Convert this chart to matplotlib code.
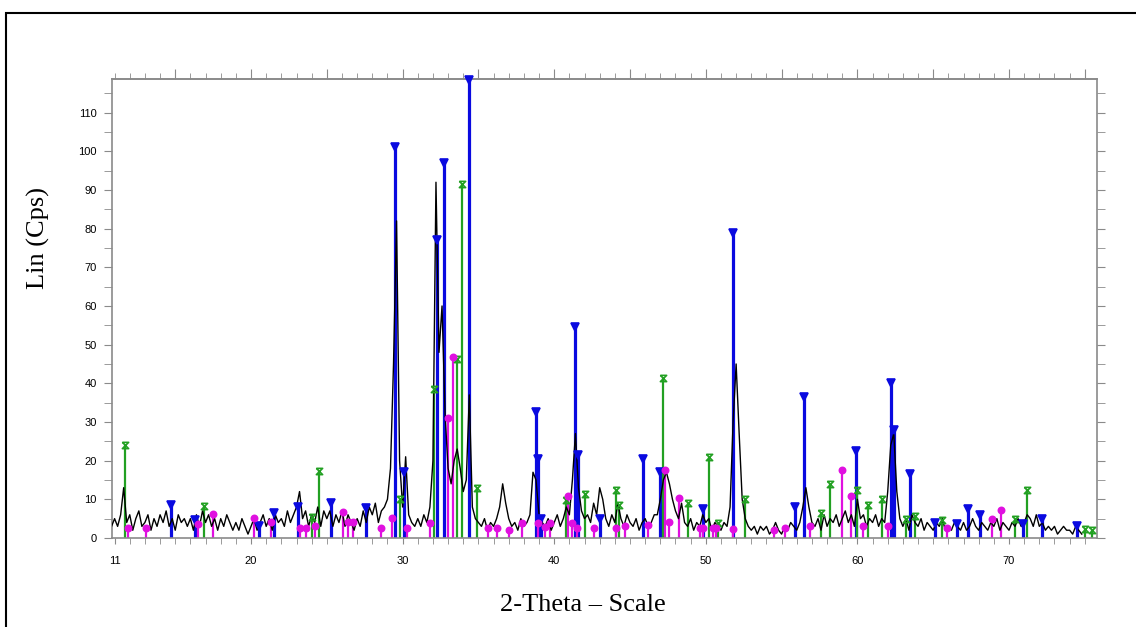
import numpy as np
import matplotlib
matplotlib.use("Agg")
import matplotlib.pyplot as plt
from matplotlib.path import Path
from matplotlib.patches import Rectangle
from matplotlib.ticker import FixedLocator, MultipleLocator

# measured pattern, 0.2 deg step from 10.8 to 74.8 (one row per degree)
counts = [
    3,
    5, 3, 6, 13, 4,
    6, 2, 5, 7, 3,
    4, 6, 2, 5, 3,
    6, 4, 7, 3, 5,
    2, 6, 4, 5, 3,
    5, 2, 6, 3, 7,
    4, 6, 3, 5, 2,
    5, 3, 6, 4, 2,
    4, 2, 5, 3, 1,
    3, 5, 2, 4, 6,
    3, 5, 2, 6, 4,
    5, 3, 7, 4, 6,
    8, 12, 5, 7, 3,
    6, 4, 8, 3, 7,
    5, 7, 3, 6, 4,
    7, 3, 6, 4, 2,
    5, 3, 7, 4, 8,
    6, 9, 4, 7, 8,
    10, 18, 45, 82, 20,
    8, 21, 6, 4, 3,
    5, 3, 6, 4, 8,
    20, 92, 48, 60, 32,
    18, 14, 20, 23, 18,
    12, 15, 37, 8, 5,
    4, 3, 5, 2, 4,
    3, 5, 8, 14, 9,
    5, 3, 4, 2, 5,
    3, 4, 6, 17, 15,
    6, 4, 3, 5, 2,
    4, 6, 3, 5, 8,
    6, 15, 27, 13, 7,
    5, 6, 4, 9, 6,
    13, 10, 5, 3, 6,
    4, 9, 5, 3, 6,
    4, 3, 5, 2, 4,
    5, 3, 4, 6, 6,
    10, 15, 17, 14, 10,
    7, 5, 9, 4, 3,
    5, 2, 4, 3, 6,
    4, 5, 2, 4, 3,
    2, 4, 3, 8, 30,
    45, 27, 10, 5, 3,
    2, 3, 1, 3, 2,
    3, 1, 2, 4, 2,
    1, 3, 2, 4, 3,
    2, 4, 8, 13, 8,
    4, 3, 5, 2, 6,
    3, 5, 4, 6, 3,
    5, 7, 4, 6, 3,
    10, 5, 6, 3, 5,
    4, 6, 3, 5, 4,
    12, 24, 27, 12, 5,
    3, 5, 2, 6, 4,
    3, 5, 2, 4, 3,
    2, 4, 3, 5, 2,
    3, 2, 4, 3, 2,
    4, 2, 3, 5, 3,
    2, 4, 3, 2, 4,
    3, 5, 2, 4, 3,
    2, 4, 3, 5, 3,
    4, 6, 5, 3, 6,
    3, 4, 2, 3, 2,
    3, 1, 2, 3, 2,
    2, 1, 3, 2, 1,
]
two_theta = np.linspace(10.8, 74.8, len(counts))

# reference phases (stick patterns)
blue_pos = [14.7, 16.3, 20.5, 21.5, 23.1, 25.3, 27.6, 29.5, 30.1, 32.3, 32.7,
            34.4, 38.8, 38.95, 39.1, 41.35, 41.6, 43.0, 45.85, 47.0, 49.8,
            51.8, 55.9, 56.5, 59.9, 62.2, 62.4, 63.5, 65.1, 66.6, 67.3, 68.1,
            70.9, 72.2, 74.5]
blue_int = [8.5, 4.6, 3, 6.5, 8, 9, 7.7, 101, 17, 77, 97,
            118.5, 32.5, 20.5, 5, 54.5, 21.5, 5, 20.5, 17, 7.5,
            79, 8, 36.5, 22.5, 40, 28, 16.5, 3.9, 3.5, 7.5, 6,
            3.5, 4.9, 3]

green_pos = [11.7, 16.9, 24.0, 24.5, 29.8, 32.1, 33.6, 33.9, 34.9, 40.8, 42.0,
             44.1, 44.3, 47.2, 48.8, 50.2, 50.8, 52.6, 57.6, 58.2, 60.0, 60.7,
             61.6, 63.2, 63.8, 65.6, 70.4, 71.2, 75.0, 75.5]
green_int = [24, 8.3, 5.5, 17.4, 10, 38.5, 46.3, 91.5, 13, 9.8, 11.4,
             12.4, 8.5, 41.5, 9, 21, 3.8, 10, 6.5, 14, 12.4, 8.5,
             10, 5, 5.7, 4.7, 5, 12.4, 2.3, 2]

mag_pos = [11.9, 13.1, 16.5, 17.5, 20.2, 21.3, 23.2, 23.6, 24.2, 26.1, 26.4,
           26.7, 28.6, 29.3, 30.3, 31.8, 33.0, 33.3, 35.6, 36.2, 37.0, 37.9,
           38.9, 39.4, 39.7, 40.9, 41.2, 41.5, 42.6, 44.1, 44.7, 46.2, 47.3,
           47.6, 48.2, 49.6, 49.8, 50.5, 50.7, 51.8, 54.5, 55.2, 56.9, 59.0,
           59.6, 60.4, 62.0, 65.9, 68.9, 69.5]
mag_int = [2.6, 2.6, 3.6, 6.2, 5.2, 4.2, 2.5, 2.5, 3, 6.7, 4,
           4, 2.6, 5.2, 2.6, 3.9, 31, 46.8, 2.5, 2.6, 2, 3.8,
           3.8, 2.8, 3.9, 10.8, 3.9, 2.5, 2.6, 2.6, 3, 3.4, 17.6,
           4, 10.3, 2.6, 2.6, 2.6, 2.6, 2.4, 2, 2.5, 3, 17.6,
           10.9, 3, 3, 2.6, 4.9, 7.3]

x_labels = [11, 20, 30, 40, 50, 60, 70]

# hourglass marker for the green phase
hourglass = Path(
    [(-1, 1), (1, 1), (-1, -1), (1, -1), (-1, 1)],
    [Path.MOVETO, Path.LINETO, Path.LINETO, Path.LINETO, Path.LINETO],
)

fig = plt.figure(figsize=(11.36, 6.27), dpi=100)
ax = fig.add_axes([0.0986, 0.142, 0.867, 0.732])

spine_col = "#8a8a8a"


def sticks(pos, vals, color, lw, marker, ms, filled=True):
    ax.vlines(pos, 0, vals, colors=color, lw=lw, zorder=2)
    ax.plot(pos, vals, ls="none", marker=marker, ms=ms, mew=1.2,
            mfc=color if filled else "none", mec=color, zorder=4,
            clip_on=False)


sticks(blue_pos, blue_int, "#0a0ae0", 2.3, "v", 5.5)
sticks(green_pos, green_int, "#22a022", 1.6, hourglass, 4.5, filled=False)
sticks(mag_pos, mag_int, "#e010e0", 1.6, "o", 4.5)

ax.plot(two_theta, counts, color="black", lw=1.0, zorder=3)

ax.set_xlim(10.83, 75.8)
ax.set_ylim(0, 118.7)

for s in ax.spines.values():
    s.set_color(spine_col)
    s.set_linewidth(1.2)

ax.xaxis.set_major_locator(FixedLocator(x_labels))
ax.xaxis.set_minor_locator(MultipleLocator(1))
ax.yaxis.set_major_locator(MultipleLocator(10))
ax.yaxis.set_minor_locator(MultipleLocator(5))
ax.tick_params(axis="x", which="both", direction="out", length=4,
               color=spine_col, labelsize=8, pad=9)
ax.tick_params(axis="y", which="both", direction="out", length=6,
               color=spine_col, labelsize=8, right=True, pad=5)

top = ax.secondary_xaxis("top")
top.xaxis.set_major_locator(MultipleLocator(5))
top.xaxis.set_minor_locator(MultipleLocator(1))
top.tick_params(which="major", length=7, color=spine_col, labeltop=False)
top.tick_params(which="minor", length=4, color=spine_col)
top.spines["top"].set_color(spine_col)
top.spines["top"].set_linewidth(1.2)

for lab in ax.get_xticklabels() + ax.get_yticklabels():
    lab.set_fontfamily("Liberation Sans")

fig.text(0.034, 0.62, "Lin (Cps)", rotation=90, ha="center", va="center",
         fontsize=19, family="Liberation Serif")
fig.text(0.513, 0.035, "2-Theta \u2013 Scale", ha="center", va="center",
         fontsize=19, family="Liberation Serif")

# outer frame of the original page
fig.add_artist(Rectangle((0.0057, -0.1), 1.5, 1.08, transform=fig.transFigure,
                         fill=False, ec="black", lw=1.5))

fig.savefig("out.png", dpi=100)
